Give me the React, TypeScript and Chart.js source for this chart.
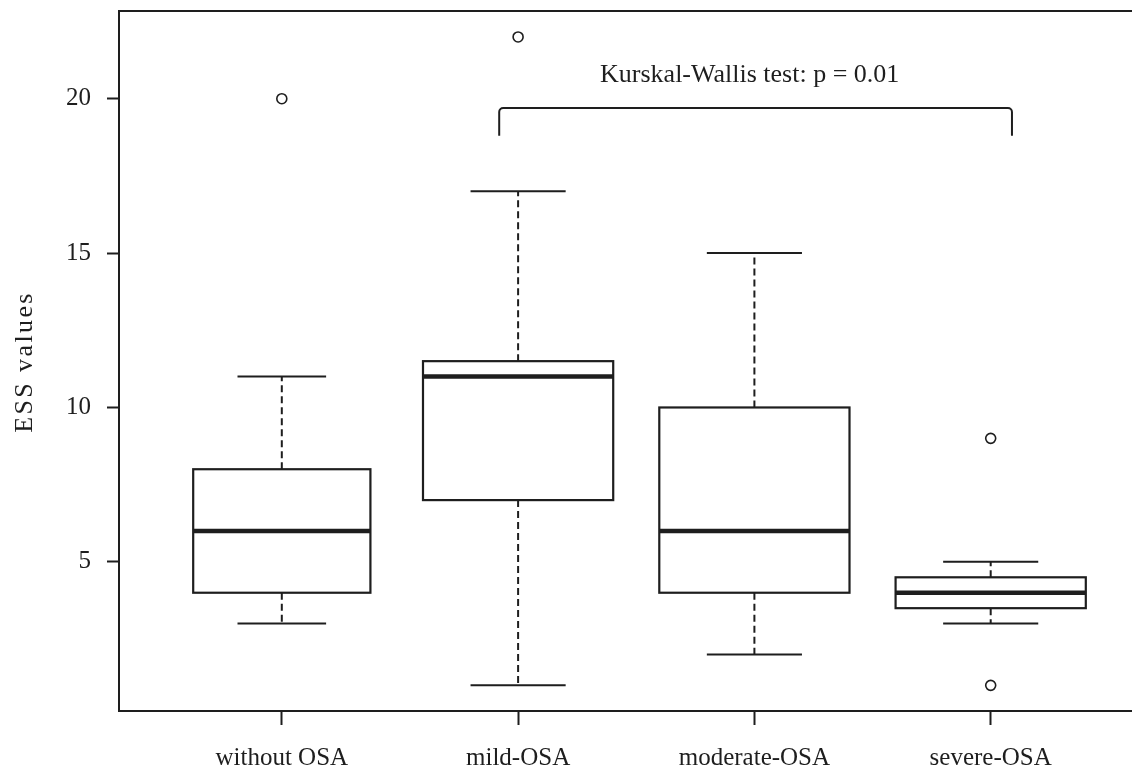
import React, { useEffect, useRef } from 'react';
import { Chart, registerables } from 'chart.js';

Chart.register(...registerables);

// ---- data ----
const categories = ['without OSA', 'mild-OSA', 'moderate-OSA', 'severe-OSA'];
const whiskerLow = [3, 1, 2, 3];
const q1 = [4, 7, 4, 3.5];
const median = [6, 11, 6, 4];
const q3 = [8, 11.5, 10, 4.5];
const whiskerHigh = [11, 17, 15, 5];
const outlierGroup = [1, 2, 4, 4];
const outlierValue = [20, 22, 9, 1];
const yTicks = [5, 10, 15, 20];
const yTitle = 'ESS values';
const testLabel = 'Kurskal-Wallis test: p = 0.01';

// annotation placement (data coordinates)
const bracketFrom = 1.92;
const bracketTo = 4.09;
const bracketTop = 19.7;
const bracketFoot = 18.8;
const labelAtX = 2.98;
const labelAtY = 20.54;

// ---- styles ----
const INK = '#1e1e1e';
const FONT = '"Liberation Serif", "Times New Roman", "DejaVu Serif", serif';
const boxWidths = [0.75, 0.805, 0.805, 0.805];

const boxPlugin = {
  id: 'rBoxes',
  beforeDatasetsDraw(chart: any) {
    const { ctx } = chart;
    const xs = chart.scales.x;
    const ys = chart.scales.y;
    ctx.save();
    ctx.strokeStyle = INK;
    ctx.lineCap = 'butt';
    for (let i = 0; i < categories.length; i++) {
      const cx = xs.getPixelForValue(i + 1);
      const half = (xs.getPixelForValue(i + 1 + boxWidths[i] / 2) - xs.getPixelForValue(i + 1 - boxWidths[i] / 2)) / 2;
      const yLo = ys.getPixelForValue(whiskerLow[i]);
      const yQ1 = ys.getPixelForValue(q1[i]);
      const yMed = ys.getPixelForValue(median[i]);
      const yQ3 = ys.getPixelForValue(q3[i]);
      const yHi = ys.getPixelForValue(whiskerHigh[i]);
      // whiskers
      ctx.lineWidth = 2;
      ctx.setLineDash([7, 4]);
      ctx.beginPath();
      ctx.moveTo(cx, yQ3);
      ctx.lineTo(cx, yHi);
      ctx.moveTo(cx, yQ1);
      ctx.lineTo(cx, yLo);
      ctx.stroke();
      ctx.setLineDash([]);
      // caps
      ctx.beginPath();
      ctx.moveTo(cx - half / 2, yHi);
      ctx.lineTo(cx + half / 2, yHi);
      ctx.moveTo(cx - half / 2, yLo);
      ctx.lineTo(cx + half / 2, yLo);
      ctx.stroke();
      // box
      ctx.fillStyle = '#ffffff';
      ctx.fillRect(cx - half, yQ3, 2 * half, yQ1 - yQ3);
      ctx.lineWidth = 2.2;
      ctx.strokeRect(cx - half, yQ3, 2 * half, yQ1 - yQ3);
      // median
      ctx.lineWidth = 4.5;
      ctx.beginPath();
      ctx.moveTo(cx - half, yMed);
      ctx.lineTo(cx + half, yMed);
      ctx.stroke();
    }
    ctx.restore();
  },
  afterDraw(chart: any) {
    const { ctx, chartArea } = chart;
    const xs = chart.scales.x;
    const ys = chart.scales.y;
    ctx.save();
    // top frame line
    ctx.strokeStyle = INK;
    ctx.lineWidth = 2;
    ctx.beginPath();
    ctx.moveTo(chartArea.left - 1, chartArea.top);
    ctx.lineTo(chartArea.right, chartArea.top);
    ctx.stroke();
    // bracket
    const bx1 = xs.getPixelForValue(bracketFrom);
    const bx2 = xs.getPixelForValue(bracketTo);
    const by = ys.getPixelForValue(bracketTop);
    const bf = ys.getPixelForValue(bracketFoot);
    const r = 4;
    ctx.beginPath();
    ctx.moveTo(bx1, bf);
    ctx.arcTo(bx1, by, bx1 + r, by, r);
    ctx.lineTo(bx2 - r, by);
    ctx.arcTo(bx2, by, bx2, by + r, r);
    ctx.lineTo(bx2, bf);
    ctx.stroke();
    // test label
    ctx.fillStyle = INK;
    ctx.font = `26px ${FONT}`;
    ctx.textAlign = 'center';
    ctx.textBaseline = 'alphabetic';
    ctx.fillText(testLabel, xs.getPixelForValue(labelAtX), ys.getPixelForValue(labelAtY));
    // y title
    ctx.font = `26px ${FONT}`;
    (ctx as any).letterSpacing = '2.4px';
    ctx.translate(chartArea.left - 87, (chartArea.top + chartArea.bottom) / 2 + 1);
    ctx.rotate(-Math.PI / 2);
    ctx.fillText(yTitle, 0, 0);
    ctx.restore();
  },
};

export default function App() {
  const ref = useRef<HTMLCanvasElement | null>(null);
  useEffect(() => {
    document.body.style.margin = '0';
    if (!ref.current) return;
    const chart = new Chart(ref.current, {
      type: 'scatter',
      data: {
        datasets: [
          {
            label: 'outliers',
            data: outlierGroup.map((g, i) => ({ x: g, y: outlierValue[i] })),
            pointRadius: 5,
            pointBorderWidth: 1.6,
            pointBackgroundColor: '#ffffff',
            pointBorderColor: INK,
            showLine: false,
          },
        ],
      },
      options: {
        animation: false,
        responsive: false,
        devicePixelRatio: 1,
        layout: { autoPadding: false, padding: { top: 11, left: 0, right: 0, bottom: 0 } },
        plugins: {
          legend: { display: false },
          tooltip: { enabled: false },
          title: { display: false },
        },
        scales: {
          x: {
            type: 'linear',
            min: 0.311,
            max: 4.598,
            afterBuildTicks: (s: any) => {
              s.ticks = categories.map((_, i) => ({ value: i + 1 }));
            },
            afterFit: (s: any) => {
              s.height = 62;
              s.paddingLeft = 0;
              s.paddingRight = 0;
              s.paddingTop = 0;
              s.paddingBottom = 0;
            },
            ticks: {
              callback: (v: any) => categories[Number(v) - 1] ?? '',
              font: { family: FONT, size: 25 },
              color: INK,
              padding: 18,
              maxRotation: 0,
              autoSkip: false,
            },
            grid: {
              display: true,
              drawOnChartArea: false,
              drawTicks: true,
              tickLength: 14,
              tickWidth: 2,
              tickColor: INK,
            },
            border: { display: true, color: INK, width: 2 },
          },
          y: {
            type: 'linear',
            min: 0.17,
            max: 22.84,
            afterBuildTicks: (s: any) => {
              s.ticks = yTicks.map((v) => ({ value: v }));
            },
            afterFit: (s: any) => {
              s.width = 119;
              s.paddingLeft = 0;
              s.paddingRight = 0;
              s.paddingTop = 0;
              s.paddingBottom = 0;
            },
            ticks: {
              font: { family: FONT, size: 25 },
              color: INK,
              padding: 16,
            },
            grid: {
              display: true,
              drawOnChartArea: false,
              drawTicks: true,
              tickLength: 12,
              tickWidth: 2,
              tickColor: INK,
            },
            border: { display: true, color: INK, width: 2 },
          },
        },
      },
      plugins: [boxPlugin],
    } as any);
    return () => chart.destroy();
  }, []);
  return <canvas ref={ref} width={1132} height={773} style={{ display: 'block' }} />;
}
